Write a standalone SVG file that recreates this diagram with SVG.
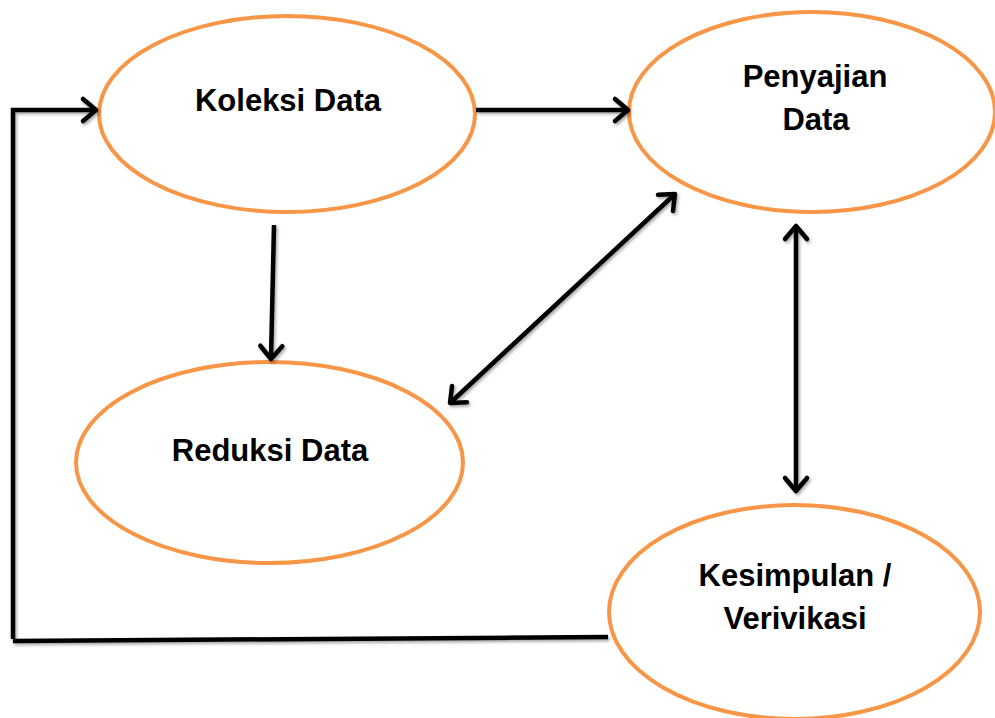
<svg xmlns="http://www.w3.org/2000/svg" width="995" height="718" viewBox="0 0 995 718">
<style>
.node ellipse{fill:#fff;stroke:#F79646;stroke-width:4}
.node text{font-family:"Liberation Sans",Arial,sans-serif;font-weight:bold;font-size:31px;fill:#000;text-anchor:middle}
.conn path{fill:none;stroke:#000;stroke-width:4.5;stroke-linejoin:miter}
</style>
<defs>
<filter id="sh" x="-10%" y="-10%" width="120%" height="120%">
<feDropShadow dx="1.5" dy="2" stdDeviation="1.5" flood-color="#000" flood-opacity="0.35"/>
</filter>
<marker id="ah" markerUnits="userSpaceOnUse" markerWidth="40" markerHeight="40" refX="0" refY="0" orient="auto-start-reverse" overflow="visible">
<path d="M-13,-11 L0,0 L-13,11" fill="none" stroke="#000" stroke-width="4.5" stroke-linecap="round" stroke-linejoin="round"/>
</marker>
</defs>
<rect width="995" height="718" fill="#fff"/>
<g id="n-koleksi" class="node">
<ellipse cx="287" cy="114" rx="188" ry="98"/>
<text x="288" y="111">Koleksi Data</text>
</g>
<g id="n-penyajian" class="node">
<ellipse cx="812" cy="112" rx="183" ry="100"/>
<text x="815" y="87">Penyajian</text>
<text x="816" y="130">Data</text>
</g>
<g id="n-reduksi" class="node">
<ellipse cx="269.5" cy="462.5" rx="193.5" ry="100.5"/>
<text x="270" y="461">Reduksi Data</text>
</g>
<g id="n-kesimpulan" class="node">
<ellipse cx="794.5" cy="612" rx="185.5" ry="107"/>
<text x="795" y="586">Kesimpulan /</text>
<text x="795" y="629">Verivikasi</text>
</g>
<g id="connectors" class="conn" filter="url(#sh)">
<path d="M476,110 L628,110" marker-end="url(#ah)"/>
<path d="M274,225 L271,359" marker-end="url(#ah)"/>
<path d="M450,403 L675,194" marker-start="url(#ah)" marker-end="url(#ah)"/>
<path d="M796,226 L796,491" marker-start="url(#ah)" marker-end="url(#ah)"/>
<path d="M608,637 L13,641"/>
<path d="M13,639 L13,110 L96,110" marker-end="url(#ah)"/>
</g>
</svg>
